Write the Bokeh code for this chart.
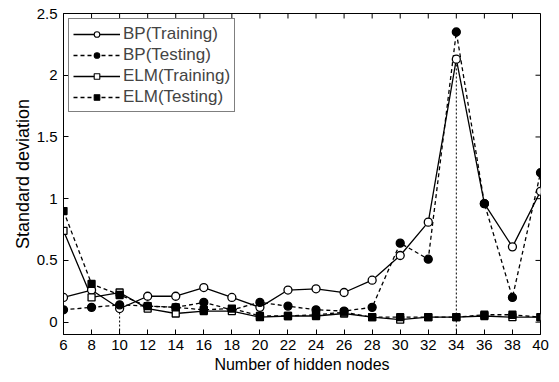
import math
from bokeh.plotting import figure
from bokeh.models import Range1d, FixedTicker, CustomJSTickFormatter, Legend, LegendItem
from bokeh.embed import file_html
from bokeh.resources import INLINE

nodes = [6, 8, 10, 12, 14, 16, 18, 20, 22, 24, 26, 28, 30, 32, 34, 36, 38, 40]
bp_train = [0.20, 0.26, 0.11, 0.21, 0.21, 0.28, 0.20, 0.12, 0.26, 0.27, 0.24, 0.34, 0.54, 0.81, 2.13, 0.96, 0.61, 1.06]
bp_test = [0.10, 0.12, 0.14, 0.13, 0.12, 0.16, 0.10, 0.16, 0.13, 0.10, 0.09, 0.12, 0.64, 0.51, 2.35, 0.96, 0.20, 1.21]
elm_train = [0.74, 0.20, 0.24, 0.11, 0.07, 0.09, 0.09, 0.04, 0.05, 0.05, 0.07, 0.04, 0.02, 0.04, 0.04, 0.05, 0.04, 0.04]
elm_test = [0.90, 0.31, 0.22, 0.13, 0.12, 0.10, 0.11, 0.05, 0.05, 0.06, 0.08, 0.04, 0.04, 0.04, 0.04, 0.06, 0.06, 0.04]
mark_x = [10, 34]
mark_top = [0.11, 2.13]
x_ticks = list(range(6, 41, 2))
y_ticks = [0, 0.5, 1, 1.5, 2, 2.5]
X_MIN, X_MAX = 6, 40
Y_MIN, Y_MAX = -0.1, 2.5

FONT = "Liberation Sans"

p = figure(width=559, height=382, output_backend="svg", toolbar_location=None,
           x_range=Range1d(X_MIN, X_MAX), y_range=Range1d(Y_MIN, Y_MAX),
           min_border_left=63, min_border_right=19, min_border_top=13, min_border_bottom=48)
p.grid.visible = False
p.outline_line_color = "black"
p.outline_line_width = 1
p.background_fill_color = "white"
p.border_fill_color = "white"

fmt = CustomJSTickFormatter(code="return String(tick)")
for ax in p.xaxis + p.yaxis:
    ax.major_tick_in = 5
    ax.major_tick_out = 0
    ax.minor_tick_line_color = None
    ax.axis_line_color = "black"
    ax.major_label_text_font = FONT
    ax.major_label_text_font_size = "15px"
    ax.major_label_text_color = "black"
    ax.axis_label_text_font = FONT
    ax.axis_label_text_font_style = "normal"
    ax.axis_label_text_color = "black"
p.xaxis.ticker = FixedTicker(ticks=x_ticks)
p.yaxis.ticker = FixedTicker(ticks=y_ticks)
p.yaxis.formatter = fmt
p.xaxis.axis_label = "Number of hidden nodes"
p.yaxis.axis_label = "Standard deviation"
p.xaxis.axis_label_text_font_size = "16px"
p.yaxis.axis_label_text_font_size = "18px"
p.xaxis.major_label_standoff = 5
p.yaxis.major_label_standoff = 6
p.xaxis.axis_label_standoff = 3
p.yaxis.axis_label_standoff = 1

# inner ticks on the top and right edges of the frame
p.ray(x=x_ticks, y=Y_MAX, length=5, length_units="screen", angle=-math.pi / 2,
      line_color="black", line_width=1)
p.ray(x=X_MAX, y=y_ticks, length=5, length_units="screen", angle=math.pi,
      line_color="black", line_width=1)

# dotted drop lines
for xv, yt in zip(mark_x, mark_top):
    p.line([xv, xv], [Y_MIN, yt], line_color="black", line_width=1, line_dash="2 2")

lw = 1.3
DASH = "4 3"
series = [
    ("BP(Training)", bp_train, "solid", "circle", "white", 8),
    ("BP(Testing)", bp_test, DASH, "circle", "black", 8),
    ("ELM(Training)", elm_train, "solid", "square", "white", 7),
    ("ELM(Testing)", elm_test, DASH, "square", "black", 7),
]

items = []
# legend renderers: same data, smaller markers, drawn underneath the visible marks
for label, ys, dash, marker, fill, size in series:
    l = p.line(nodes, ys, line_color="black", line_width=lw, line_dash=dash)
    m = p.scatter(nodes, ys, marker=marker, size=5, fill_color=fill, line_color="black", line_width=1.1)
    items.append(LegendItem(label=label, renderers=[l, m]))
for label, ys, dash, marker, fill, size in series:
    p.scatter(nodes, ys, marker=marker, size=size, fill_color=fill, line_color="black", line_width=1.3)

legend = Legend(items=items, location="top_left")
legend.margin = 5
legend.padding = 4
legend.spacing = 0
legend.glyph_width = 47
legend.glyph_height = 14
legend.label_height = 21
legend.label_text_font = FONT
legend.label_text_font_size = "17px"
legend.label_standoff = 3
legend.border_line_color = "black"
legend.border_line_width = 1
legend.background_fill_alpha = 1
p.add_layout(legend, "center")

open("out.html", "w").write(file_html(p, INLINE))
